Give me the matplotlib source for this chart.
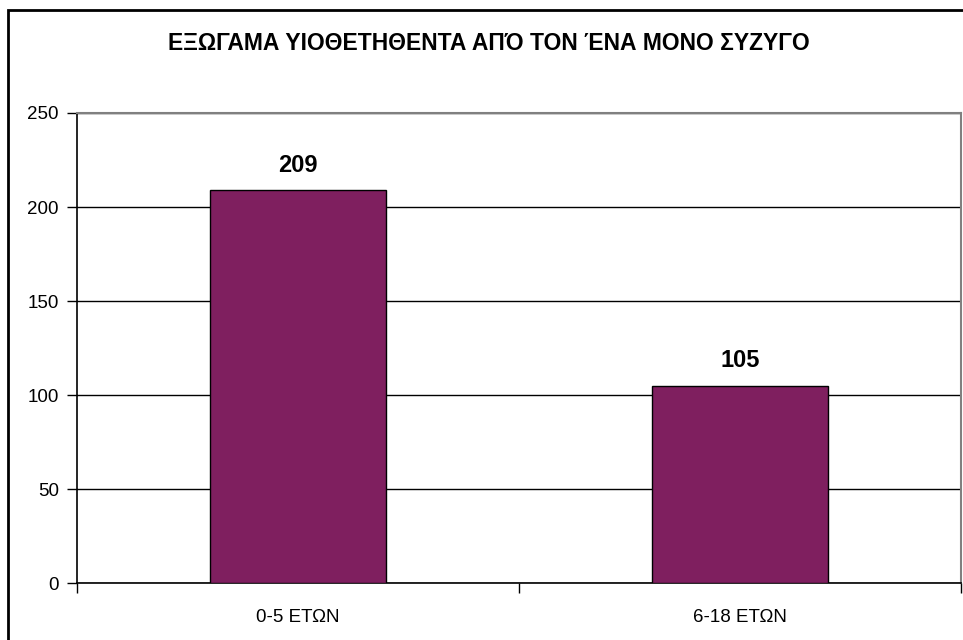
import matplotlib.pyplot as plt
from matplotlib.patches import Rectangle

categories = ['0-5 ΕΤΩΝ', '6-18 ΕΤΩΝ']
values = [209, 105]
title = 'ΕΞΩΓΑΜΑ ΥΙΟΘΕΤΗΘΕΝΤΑ ΑΠΌ ΤΟΝ ΈΝΑ ΜΟΝΟ ΣΥΖΥΓΟ'
yticks = [0, 50, 100, 150, 200, 250]

plt.rcParams['font.family'] = ['Liberation Sans', 'DejaVu Sans']

fig = plt.figure(figsize=(9.63, 6.4), dpi=100)
ax = fig.add_axes([77 / 963, 1 - 583 / 640, 884 / 963, 470 / 640])

# outer chart border (only left and top visible)
fig.patches.append(Rectangle((8 / 963, -0.1), 2.0, 1 - 10 / 640 + 0.1,
                             transform=fig.transFigure, fill=False,
                             edgecolor='black', linewidth=2))

x = list(range(len(categories)))
ax.bar(x, values, width=0.4, color='#7f1f5f', edgecolor='black', linewidth=1, zorder=3)

for xi, v in zip(x, values):
    ax.annotate(str(v), (xi, v), xytext=(0, 18), textcoords='offset points',
                ha='center', va='center', fontsize=17, fontweight='bold')

ax.set_xlim(-0.5, len(categories) - 0.5)
ax.set_ylim(0, 250)
ax.set_yticks(yticks)
ax.yaxis.grid(True, color='black', linewidth=1)
ax.set_axisbelow(True)

ax.set_xticks([i - 0.5 for i in range(len(categories) + 1)])
ax.set_xticklabels([])
ax.set_xticks(x, minor=True)
ax.set_xticklabels(categories, minor=True)
ax.tick_params(axis='x', which='major', length=7, width=1, direction='out')
ax.tick_params(axis='x', which='minor', length=0, pad=19, labelsize=13.5)
ax.tick_params(axis='y', length=7, width=1, direction='out', pad=6, labelsize=13.5)

for s in ['left', 'bottom']:
    ax.spines[s].set_color('black')
    ax.spines[s].set_linewidth(1.2)
for s in ['top', 'right']:
    ax.spines[s].set_color('#808080')
    ax.spines[s].set_linewidth(1.5)

fig.text(489 / 963, 1 - 44 / 640, title, ha='center', va='center',
         fontsize=16.5, fontweight='bold')

fig.savefig('out.png', dpi=100)
